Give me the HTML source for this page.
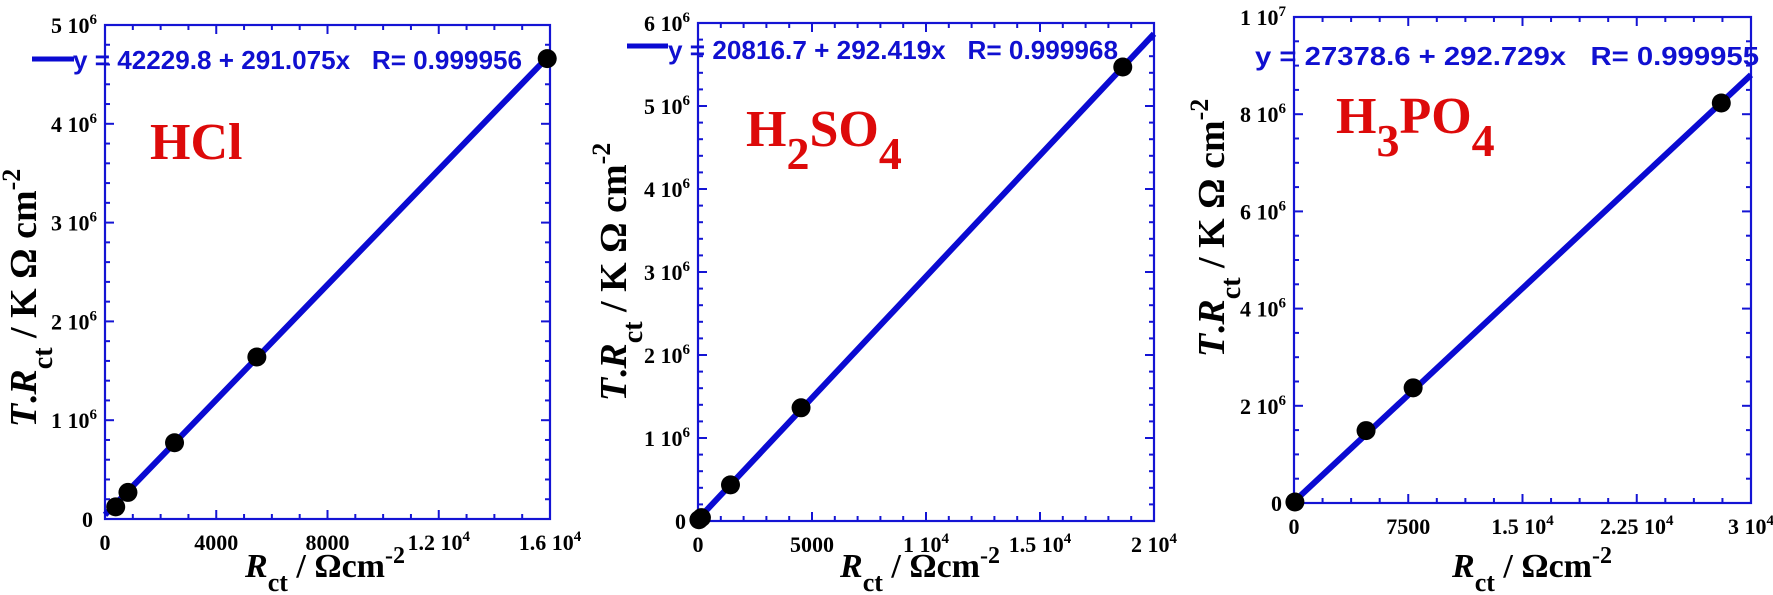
<!DOCTYPE html>
<html><head><meta charset="utf-8"><style>
body{margin:0;background:#fff;}
svg{display:block;}
.tk{font-family:"Liberation Serif",serif;font-weight:bold;font-size:22px;fill:#000;}
.ttl{font-family:"Liberation Serif",serif;font-weight:bold;font-size:34px;fill:#000;}
.ytl{font-family:"Liberation Serif",serif;font-weight:bold;font-size:38px;fill:#000;}
.leg{font-family:"Liberation Sans",sans-serif;font-weight:bold;font-size:26px;fill:#1010d0;white-space:pre;}
.acid{font-family:"Liberation Serif",serif;font-weight:bold;font-size:52px;fill:#dd0a0a;}
</style></head><body>
<svg id="chart" width="1773" height="595" viewBox="0 0 1773 595" xmlns="http://www.w3.org/2000/svg"></svg>
<script>
// Panel 1: HCl
const hclX = [385, 825, 2500, 5460, 15900];
const hclY = [123000, 269000, 772000, 1640000, 4660000];
const hclFit = [42229.8, 291.075];
const hclXTicks = ["0", "4000", "8000", "1.2 10^4", "1.6 10^4"];
const hclYTicks = ["0", "1 10^6", "2 10^6", "3 10^6", "4 10^6", "5 10^6"];
// Panel 2: H2SO4
const h2so4X = [40, 150, 1425, 4520, 18630];
const h2so4Y = [15000, 40000, 435000, 1364000, 5470000];
const h2so4Fit = [20816.7, 292.419];
const h2so4XTicks = ["0", "5000", "1 10^4", "1.5 10^4", "2 10^4"];
const h2so4YTicks = ["0", "1 10^6", "2 10^6", "3 10^6", "4 10^6", "5 10^6", "6 10^6"];
// Panel 3: H3PO4
const h3po4X = [60, 4730, 7820, 28050];
const h3po4Y = [20000, 1490000, 2370000, 8230000];
const h3po4Fit = [27378.6, 292.729];
const h3po4XTicks = ["0", "7500", "1.5 10^4", "2.25 10^4", "3 10^4"];
const h3po4YTicks = ["0", "2 10^6", "4 10^6", "6 10^6", "8 10^6", "1 10^7"];

const NS = "http://www.w3.org/2000/svg";
const svg = document.getElementById("chart");
function mk(tag, attrs, parent) {
  const e = document.createElementNS(NS, tag);
  for (const k in attrs) e.setAttribute(k, attrs[k]);
  (parent || svg).appendChild(e);
  return e;
}
function labelText(el, s) {
  const parts = s.split("^");
  const t1 = document.createElementNS(NS, "tspan"); t1.textContent = parts[0]; el.appendChild(t1);
  if (parts[1]) {
    const t2 = document.createElementNS(NS, "tspan");
    t2.setAttribute("dy", "-9"); t2.setAttribute("font-size", "15"); t2.textContent = parts[1];
    el.appendChild(t2);
  }
}

function panel(cfg) {
  const g = mk("g", {});
  
  
  const L = cfg.L, R = cfg.R, T = cfg.T, B = cfg.B;
  const sx = v => L + v / cfg.xMax * (R - L);
  const sy = v => B - v / cfg.yMax * (B - T);
  const blue = "#1414d4";
  const nxMin = cfg.xMax / cfg.xMinor, nyMin = cfg.yMax / cfg.yMinor;
  const ticks = mk("g", {stroke: blue, "stroke-width": 2}, g);
  
  
  for (let i = 0; i <= nxMin; i++) {
    const v = i * cfg.xMinor, x = sx(v);
    const major = Math.abs(v / cfg.xMajor - Math.round(v / cfg.xMajor)) < 1e-6;
    const len = major ? 9 : 5;
    mk("line", {x1: x, x2: x, y1: B, y2: B - len}, ticks);
    mk("line", {x1: x, x2: x, y1: T, y2: T + len}, ticks);
  }
  for (let i = 0; i <= nyMin; i++) {
    const v = i * cfg.yMinor, y = sy(v);
    const major = Math.abs(v / cfg.yMajor - Math.round(v / cfg.yMajor)) < 1e-6;
    const len = major ? 9 : 5;
    mk("line", {x1: L, x2: L + len, y1: y, y2: y}, ticks);
    mk("line", {x1: R, x2: R - len, y1: y, y2: y}, ticks);
  }
  const frame = mk("rect", {x: L, y: T, width: R - L, height: B - T, fill: "none", stroke: blue, "stroke-width": 2.2}, g);
  
  
  cfg.xTicks.forEach((s, i) => {
    const t = mk("text", {x: sx(i * cfg.xMajor), y: B + 31, "text-anchor": "middle", class: "tk"}, g);
    
    
    labelText(t, s);
  });
  cfg.yTicks.forEach((s, i) => {
    const t = mk("text", {x: L - (s.includes("^") ? 8 : 12), y: sy(i * cfg.yMajor) + 8, "text-anchor": "end", class: "tk"}, g);
    
    
    labelText(t, s);
  });
  const x0 = 0, x1 = cfg.xMax;
  const fl = mk("line", {x1: sx(x0), y1: sy(cfg.fit[0] + cfg.fit[1] * x0), x2: sx(x1), y2: sy(cfg.fit[0] + cfg.fit[1] * x1), stroke: "#0a0ad2", "stroke-width": 6}, g);
  
  
  cfg.xs.forEach((xv, i) => {
    const c = mk("circle", {cx: sx(xv), cy: sy(cfg.ys[i]), r: 9.5, fill: "#000"}, g);
    
    
  });
  if (cfg.legLine) {
    const ll = mk("line", {x1: cfg.legLine[0], x2: cfg.legLine[1], y1: cfg.legLine[2], y2: cfg.legLine[2], stroke: "#0a0ad2", "stroke-width": 5}, g);
    
    
  }
  const lt = mk("text", {x: cfg.legX, y: cfg.legY, class: "leg", textLength: cfg.legW, lengthAdjust: "spacingAndGlyphs"}, g);
  
  
  lt.setAttributeNS("http://www.w3.org/XML/1998/namespace", "xml:space", "preserve");
  lt.textContent = "y = " + cfg.fit[0] + " + " + cfg.fit[1] + "x\u00a0\u00a0\u00a0R= " + cfg.r;
  const at = mk("text", {x: cfg.acidX, y: cfg.acidY, class: "acid"}, g);
  
  
  cfg.acid.forEach(p => {
    const ts = document.createElementNS(NS, "tspan");
    ts.textContent = p[0];
    if (p[1]) { ts.setAttribute("dy", p[1]); }
    if (p[2]) ts.setAttribute("font-size", p[2]);
    at.appendChild(ts);
  });
  const xt = mk("text", {x: cfg.xtX, y: 577, class: "ttl"}, g);
  
  
  xt.innerHTML = '<tspan font-style="italic">R</tspan><tspan dy="14" font-size="26">ct</tspan><tspan dy="-14"> / Ωcm</tspan><tspan dy="-14" font-size="24">-2</tspan>';
  const yt = mk("text", {x: 0, y: 0, class: "ytl", "text-anchor": "middle", transform: "translate(" + cfg.ytX + "," + cfg.ytY + ") rotate(-90)"}, g);
  
  
  yt.innerHTML = '<tspan font-style="italic">T</tspan>.<tspan font-style="italic">R</tspan><tspan dy="16" font-size="28">ct</tspan><tspan dy="-16"> / K Ω cm</tspan><tspan dy="-16" font-size="26">-2</tspan>';
}

panel({name: "hcl", L: 105, R: 550, T: 25, B: 519, xMax: 16000, yMax: 5000000,
  xMajor: 4000, xMinor: 1000, yMajor: 1000000, yMinor: 200000,
  xs: hclX, ys: hclY, fit: hclFit, r: "0.999956", xTicks: hclXTicks, yTicks: hclYTicks,
  legLine: [32, 74, 59], legX: 73, legY: 69, legW: 449,
  acid: [["HCl"]], acidX: 150, acidY: 159, xtX: 245, ytX: 36, ytY: 298});
panel({name: "h2so4", L: 698, R: 1154, T: 23, B: 521, xMax: 20000, yMax: 6000000,
  xMajor: 5000, xMinor: 1000, yMajor: 1000000, yMinor: 200000,
  xs: h2so4X, ys: h2so4Y, fit: h2so4Fit, r: "0.999968", xTicks: h2so4XTicks, yTicks: h2so4YTicks,
  legLine: [627, 668, 46], legX: 668, legY: 59, legW: 450,
  acid: [["H"], ["2", "23", "46"], ["SO", "-23", "52"], ["4", "23", "46"]], acidX: 746, acidY: 146, xtX: 840, ytX: 626, ytY: 272});
panel({name: "h3po4", L: 1294, R: 1751, T: 17, B: 503, xMax: 30000, yMax: 10000000,
  xMajor: 7500, xMinor: 1875, yMajor: 2000000, yMinor: 500000,
  xs: h3po4X, ys: h3po4Y, fit: h3po4Fit, r: "0.999955", xTicks: h3po4XTicks, yTicks: h3po4YTicks,
  legLine: null, legX: 1255, legY: 65, legW: 504,
  acid: [["H"], ["3", "23", "46"], ["PO", "-23", "52"], ["4", "23", "46"]], acidX: 1336, acidY: 133, xtX: 1452, ytX: 1224, ytY: 228});
</script>
</body></html>
